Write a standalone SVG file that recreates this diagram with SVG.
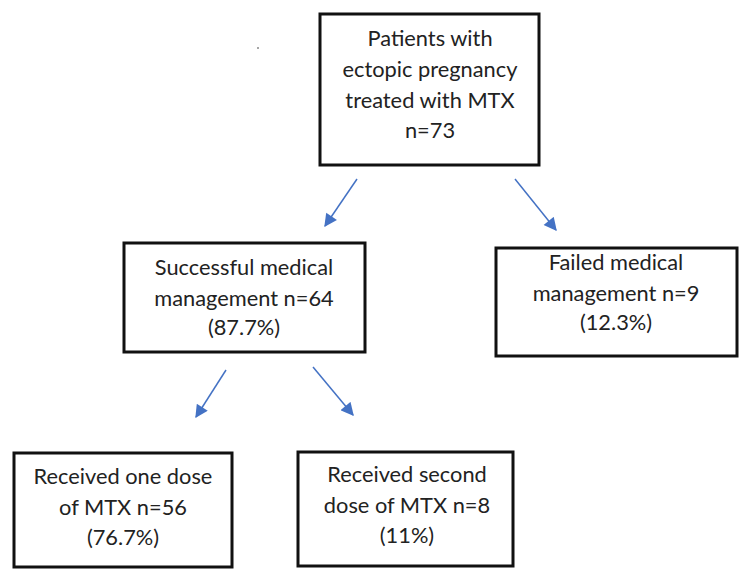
<svg xmlns="http://www.w3.org/2000/svg" width="750" height="580" viewBox="0 0 750 580">
<style>
.box{fill:#fff;stroke:#111;stroke-width:3}
.t{font-family:Lato,"Open Sans","Liberation Sans",sans-serif;font-size:21.8px;fill:#222;text-anchor:middle}
.c{stroke:#4472C4;stroke-width:1.5;fill:none}
</style>
<defs>
<marker id="ah" viewBox="0 0 10 10" refX="9" refY="5" markerWidth="14" markerHeight="13" markerUnits="userSpaceOnUse" orient="auto">
<path d="M0,0 L10,5 L0,10 z" fill="#4472C4"/>
</marker>
</defs>
<rect width="750" height="580" fill="#fff"/>
<circle cx="258" cy="48" r="1" fill="#888"/>
<g id="connectors">
<line class="c" x1="357" y1="179" x2="325" y2="226" marker-end="url(#ah)"/>
<line class="c" x1="515" y1="179" x2="556" y2="230" marker-end="url(#ah)"/>
<line class="c" x1="226" y1="370" x2="196" y2="417" marker-end="url(#ah)"/>
<line class="c" x1="313" y1="367" x2="353" y2="415" marker-end="url(#ah)"/>
</g>
<g id="n1">
<rect class="box" x="320" y="14" width="219" height="151"/>
<text class="t" x="430" y="46">Patients with</text>
<text class="t" x="430" y="77">ectopic pregnancy</text>
<text class="t" x="430" y="108">treated with MTX</text>
<text class="t" x="430" y="138">n=73</text>
</g>
<g id="n2">
<rect class="box" x="124" y="243" width="241" height="109"/>
<text class="t" x="244" y="275">Successful medical</text>
<text class="t" x="244" y="306">management n=64</text>
<text class="t" x="244" y="335">(87.7%)</text>
</g>
<g id="n3">
<rect class="box" x="496" y="248" width="241" height="108"/>
<text class="t" x="616" y="270">Failed medical</text>
<text class="t" x="616" y="301">management n=9</text>
<text class="t" x="616" y="330">(12.3%)</text>
</g>
<g id="n4">
<rect class="box" x="14" y="453" width="218" height="114"/>
<text class="t" x="123" y="484">Received one dose</text>
<text class="t" x="123" y="515">of MTX n=56</text>
<text class="t" x="123" y="545">(76.7%)</text>
</g>
<g id="n5">
<rect class="box" x="298" y="452" width="215" height="114"/>
<text class="t" x="407" y="482">Received second</text>
<text class="t" x="407" y="513">dose of MTX n=8</text>
<text class="t" x="407" y="543">(11%)</text>
</g>
</svg>
